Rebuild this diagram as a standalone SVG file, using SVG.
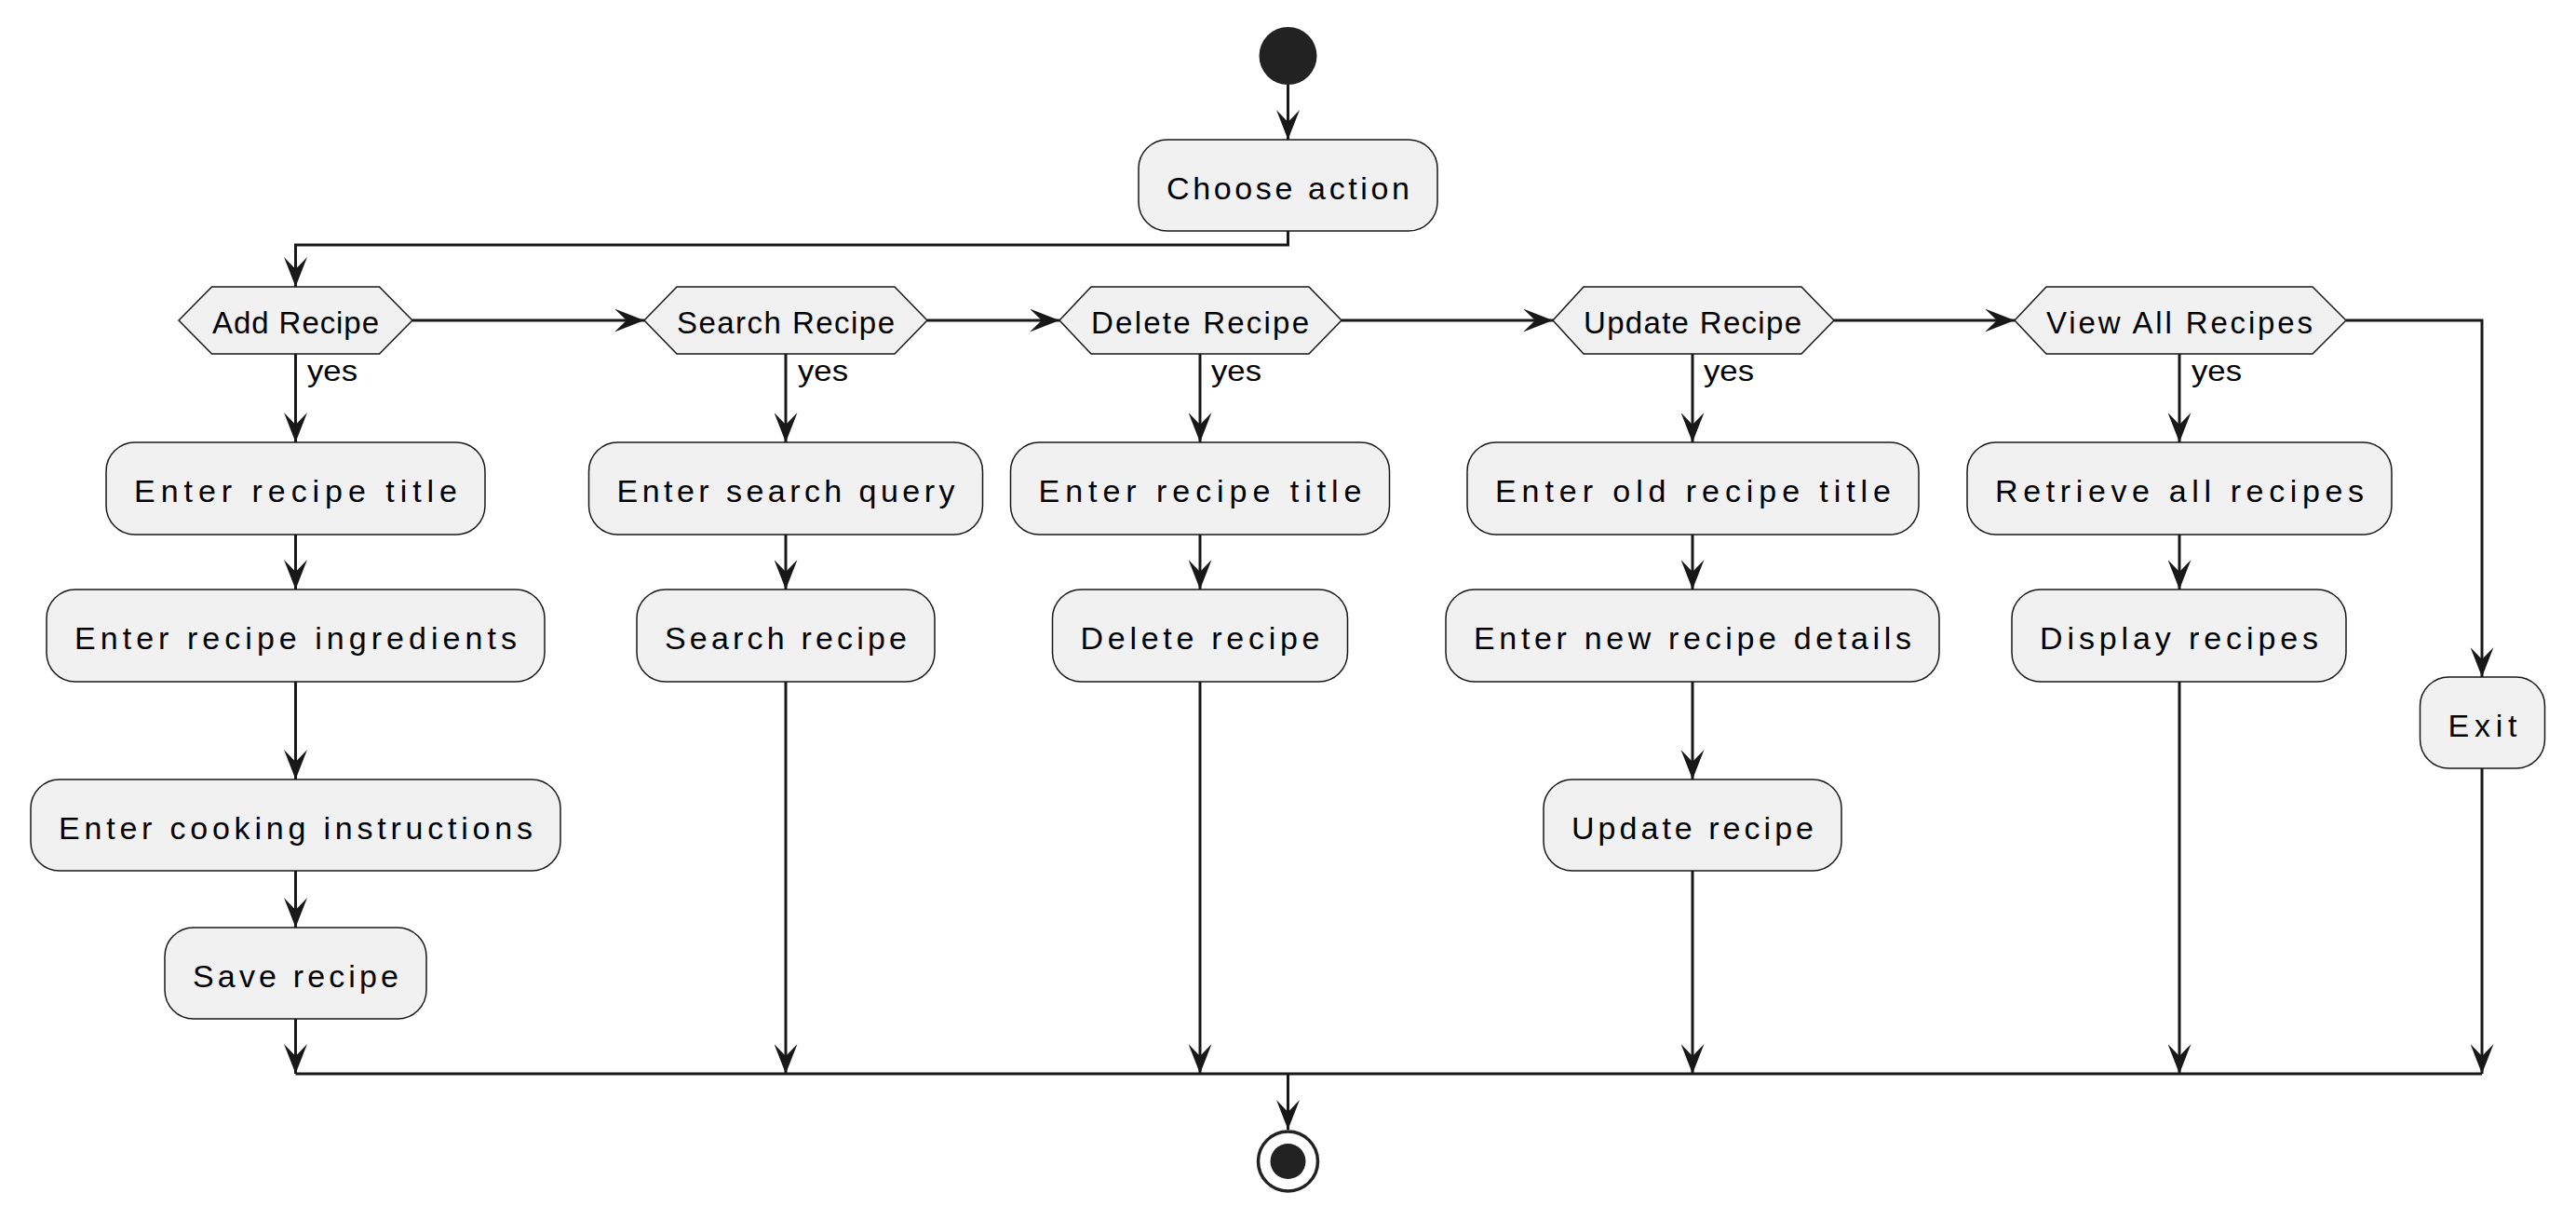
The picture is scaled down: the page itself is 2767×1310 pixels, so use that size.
<svg xmlns="http://www.w3.org/2000/svg" width="2767" height="1310" viewBox="0 0 2767 1310">
<style>
.box{fill:#F1F1F1;stroke:#181818;stroke-width:1.5}
.hex{fill:#F1F1F1;stroke:#181818;stroke-width:1.5}
.t{font-family:"Liberation Sans",Arial,sans-serif;font-size:34px;fill:#000;text-anchor:middle}
.th{font-family:"Liberation Sans",Arial,sans-serif;font-size:33px;fill:#000;text-anchor:middle}
.ty{font-family:"Liberation Sans",Arial,sans-serif;font-size:32px;fill:#000}
.c{fill:none;stroke:#181818;stroke-width:3}
.ca{fill:none;stroke:#181818;stroke-width:3;marker-end:url(#arr)}
</style>
<defs>
<marker id="arr" viewBox="0 0 32 25" refX="32" refY="12.5" markerWidth="32" markerHeight="25" markerUnits="userSpaceOnUse" orient="auto">
<path d="M0,0 L32,12.5 L0,25 L13,12.5 Z" fill="#181818"/>
</marker>
</defs>
<rect width="2767" height="1310" fill="#FFFFFF"/>

<g id="connectors">
<path class="ca" d="M1383.5,91 L1383.5,150"/>
<path class="ca" d="M1383.5,248 L1383.5,263 L317.5,263 L317.5,308"/>
<path class="ca" d="M443,344 L692,344"/>
<path class="ca" d="M996,344 L1138,344"/>
<path class="ca" d="M1441,344 L1668,344"/>
<path class="ca" d="M1970,344 L2164,344"/>
<path class="ca" d="M2520,344 L2666,344 L2666,727"/>
<path class="ca" d="M317.5,380 L317.5,475"/>
<path class="ca" d="M844,380 L844,475"/>
<path class="ca" d="M1289,380 L1289,475"/>
<path class="ca" d="M1818,380 L1818,475"/>
<path class="ca" d="M2341,380 L2341,475"/>
<path class="ca" d="M317.5,574 L317.5,633"/>
<path class="ca" d="M844,574 L844,633"/>
<path class="ca" d="M1289,574 L1289,633"/>
<path class="ca" d="M1818,574 L1818,633"/>
<path class="ca" d="M2341,574 L2341,633"/>
<path class="ca" d="M317.5,732 L317.5,837"/>
<path class="ca" d="M1818,732 L1818,837"/>
<path class="ca" d="M317.5,935 L317.5,996"/>
<path class="ca" d="M317.5,1094 L317.5,1153"/>
<path class="ca" d="M844,732 L844,1153"/>
<path class="ca" d="M1289,732 L1289,1153"/>
<path class="ca" d="M1818,935 L1818,1153"/>
<path class="ca" d="M2341,732 L2341,1153"/>
<path class="ca" d="M2666,825 L2666,1153"/>
<path class="c" d="M317.5,1153 L2666,1153"/>
<path class="ca" d="M1383.5,1153 L1383.5,1213"/>
<text class="ty" x="330" y="409" textLength="54" lengthAdjust="spacingAndGlyphs">yes</text>
<text class="ty" x="857" y="409" textLength="54" lengthAdjust="spacingAndGlyphs">yes</text>
<text class="ty" x="1301" y="409" textLength="54" lengthAdjust="spacingAndGlyphs">yes</text>
<text class="ty" x="1830" y="409" textLength="54" lengthAdjust="spacingAndGlyphs">yes</text>
<text class="ty" x="2354" y="409" textLength="54" lengthAdjust="spacingAndGlyphs">yes</text>
</g>

<g id="start"><circle cx="1383.5" cy="60" r="31" fill="#222222"/></g>

<g id="choose-action">
<rect class="box" x="1223" y="150" width="321" height="98" rx="31" ry="31"/>
<text class="t" x="1383.5" y="214" textLength="261" lengthAdjust="spacing">Choose action</text>
</g>

<g id="add-recipe">
<polygon class="hex" points="192,344 227.5,308 407.5,308 443,344 407.5,380 227.5,380"/>
<text class="th" x="317.5" y="358" textLength="179" lengthAdjust="spacing">Add Recipe</text>
</g>
<g id="search-recipe">
<polygon class="hex" points="692,344 727,308 961,308 996,344 961,380 727,380"/>
<text class="th" x="844" y="358" textLength="234" lengthAdjust="spacing">Search Recipe</text>
</g>
<g id="delete-recipe">
<polygon class="hex" points="1138,344 1172,308 1406,308 1441,344 1406,380 1172,380"/>
<text class="th" x="1289" y="358" textLength="234" lengthAdjust="spacing">Delete Recipe</text>
</g>
<g id="update-recipe">
<polygon class="hex" points="1668,344 1701,308 1935,308 1970,344 1935,380 1701,380"/>
<text class="th" x="1818" y="358" textLength="234" lengthAdjust="spacing">Update Recipe</text>
</g>
<g id="view-all-recipes">
<polygon class="hex" points="2164,344 2198,308 2484,308 2520,344 2484,380 2198,380"/>
<text class="th" x="2341" y="358" textLength="286" lengthAdjust="spacing">View All Recipes</text>
</g>

<g id="enter-recipe-title-add">
<rect class="box" x="114" y="475" width="407" height="99" rx="31" ry="31"/>
<text class="t" x="317.5" y="539" textLength="347" lengthAdjust="spacing">Enter recipe title</text>
</g>
<g id="enter-recipe-ingredients">
<rect class="box" x="50" y="633" width="535" height="99" rx="31" ry="31"/>
<text class="t" x="317.5" y="697" textLength="475" lengthAdjust="spacing">Enter recipe ingredients</text>
</g>
<g id="enter-cooking-instructions">
<rect class="box" x="33" y="837" width="569" height="98" rx="31" ry="31"/>
<text class="t" x="317.5" y="901" textLength="509" lengthAdjust="spacing">Enter cooking instructions</text>
</g>
<g id="save-recipe">
<rect class="box" x="177" y="996" width="281" height="98" rx="31" ry="31"/>
<text class="t" x="317.5" y="1060" textLength="221" lengthAdjust="spacing">Save recipe</text>
</g>

<g id="enter-search-query">
<rect class="box" x="632.5" y="475" width="423" height="99" rx="31" ry="31"/>
<text class="t" x="844" y="539" textLength="363" lengthAdjust="spacing">Enter search query</text>
</g>
<g id="search-recipe-action">
<rect class="box" x="684" y="633" width="320" height="99" rx="31" ry="31"/>
<text class="t" x="844" y="697" textLength="260" lengthAdjust="spacing">Search recipe</text>
</g>

<g id="enter-recipe-title-delete">
<rect class="box" x="1085.5" y="475" width="407" height="99" rx="31" ry="31"/>
<text class="t" x="1289" y="539" textLength="347" lengthAdjust="spacing">Enter recipe title</text>
</g>
<g id="delete-recipe-action">
<rect class="box" x="1130.5" y="633" width="317" height="99" rx="31" ry="31"/>
<text class="t" x="1289" y="697" textLength="257" lengthAdjust="spacing">Delete recipe</text>
</g>

<g id="enter-old-recipe-title">
<rect class="box" x="1576" y="475" width="485" height="99" rx="31" ry="31"/>
<text class="t" x="1818.5" y="539" textLength="425" lengthAdjust="spacing">Enter old recipe title</text>
</g>
<g id="enter-new-recipe-details">
<rect class="box" x="1553" y="633" width="530" height="99" rx="31" ry="31"/>
<text class="t" x="1818" y="697" textLength="470" lengthAdjust="spacing">Enter new recipe details</text>
</g>
<g id="update-recipe-action">
<rect class="box" x="1658" y="837" width="320" height="98" rx="31" ry="31"/>
<text class="t" x="1818" y="901" textLength="260" lengthAdjust="spacing">Update recipe</text>
</g>

<g id="retrieve-all-recipes">
<rect class="box" x="2113" y="475" width="456" height="99" rx="31" ry="31"/>
<text class="t" x="2341" y="539" textLength="396" lengthAdjust="spacing">Retrieve all recipes</text>
</g>
<g id="display-recipes">
<rect class="box" x="2161" y="633" width="359" height="99" rx="31" ry="31"/>
<text class="t" x="2340.5" y="697" textLength="299" lengthAdjust="spacing">Display recipes</text>
</g>

<g id="exit">
<rect class="box" x="2599.5" y="727" width="134" height="98" rx="31" ry="31"/>
<text class="t" x="2666.5" y="791" textLength="74" lengthAdjust="spacing">Exit</text>
</g>

<g id="end">
<circle cx="1383.5" cy="1247" r="32" fill="none" stroke="#222222" stroke-width="3.5"/>
<circle cx="1383.5" cy="1247" r="19" fill="#222222"/>
</g>
</svg>
